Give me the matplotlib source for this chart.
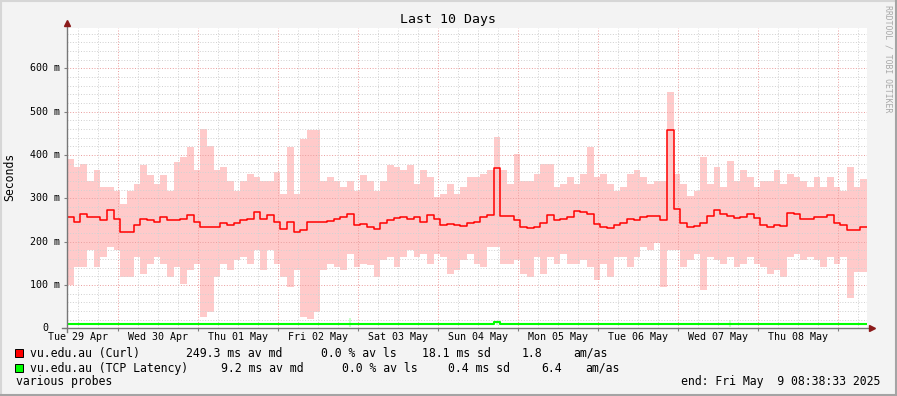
import matplotlib
matplotlib.use("Agg")
import matplotlib.pyplot as plt
import numpy as np
from matplotlib.lines import Line2D
from matplotlib.patches import Rectangle

W, H = 897, 396
MONO = "DejaVu Sans Mono"

# 2-hour blocks starting at 29 Apr 08:38:33 (hours counted from 29 Apr 00:00)
start_hour = 8.6425
block_hours = 2.0

# vu.edu.au (Curl): median / smoke low / smoke high, in ms
curl_median = [
    257, 245, 265, 257, 257, 249, 272, 253, 222, 222, 238, 253, 249, 245, 257,
    249, 249, 253, 261, 245, 234, 234, 234, 242, 238, 242, 250, 253, 268, 253, 261,
    245, 230, 245, 222, 226, 245, 245, 245, 247, 253, 257, 265, 238, 240, 233,
    230, 242, 251, 255, 257, 253, 257, 245, 261, 253, 238, 240, 238, 236, 243,
    246, 257, 262, 370, 259, 259, 249, 234, 231, 234, 242, 261, 251, 253, 257,
    270, 268, 265, 240, 234, 231, 238, 243, 253, 251, 257, 259, 259, 249, 457,
    275, 242, 234, 236, 242, 259, 272, 265, 259, 255, 257, 264, 255, 238, 234,
    238, 236, 266, 265, 253, 253, 257, 257, 261, 242, 238, 228, 226, 234,
]
curl_high = [
    392, 372, 380, 341, 365, 326, 326, 318, 287, 318, 333, 376, 353, 333, 353,
    318, 384, 395, 418, 365, 461, 422, 365, 372, 341, 318, 341, 357, 349, 341, 341,
    360, 310, 418, 310, 437, 457, 457, 341, 349, 341, 326, 341, 318, 353, 341,
    318, 341, 376, 372, 365, 376, 333, 365, 349, 303, 310, 333, 310, 326, 349,
    349, 357, 365, 441, 365, 333, 403, 341, 341, 357, 380, 380, 326, 333, 349,
    333, 357, 418, 349, 357, 333, 318, 326, 357, 365, 349, 333, 341, 341, 545,
    357, 333, 305, 318, 395, 333, 372, 326, 387, 341, 365, 349, 326, 341, 341,
    365, 333, 357, 349, 341, 326, 349, 326, 349, 326, 318, 372, 326, 345,
]
curl_low = [
    99, 142, 142, 180, 142, 165, 188, 180, 119, 119, 165, 126, 149, 165, 149,
    119, 142, 103, 134, 149, 26, 38, 119, 149, 134, 157, 165, 149, 180, 134, 180,
    149, 119, 96, 134, 26, 22, 38, 134, 149, 142, 134, 172, 142, 149, 145,
    119, 157, 165, 142, 165, 180, 165, 172, 149, 172, 165, 126, 134, 157, 172,
    149, 142, 188, 188, 149, 149, 157, 126, 119, 165, 126, 165, 149, 172, 149,
    149, 157, 142, 111, 149, 119, 165, 165, 142, 165, 188, 180, 196, 96, 180,
    180, 142, 157, 172, 88, 165, 157, 149, 165, 142, 149, 165, 149, 142, 126,
    134, 119, 165, 172, 157, 165, 157, 142, 165, 149, 165, 69, 130, 130,
]

# vu.edu.au (TCP Latency), in ms
tcp_median = [
    9.2, 9.2, 9.2, 9.2, 9.2, 9.2, 9.2, 9.2, 9.2, 9.2, 9.2, 9.2, 9.2, 9.2, 9.2,
    9.2, 9.2, 9.2, 9.2, 9.2, 9.2, 9.2, 9.2, 9.2, 9.2, 9.2, 9.2, 9.2, 9.2, 9.2, 9.2,
    9.2, 9.2, 9.2, 9.2, 9.2, 9.2, 9.2, 9.2, 9.2, 9.2, 9.2, 9.2, 9.2, 9.2, 9.2,
    9.2, 9.2, 9.2, 9.2, 9.2, 9.2, 9.2, 9.2, 9.2, 9.2, 9.2, 9.2, 9.2, 9.2, 9.2,
    9.2, 9.2, 10.5, 14.0, 9.2, 9.2, 9.2, 9.2, 9.2, 9.2, 9.2, 9.2, 9.2, 9.2, 9.2,
    9.2, 9.2, 9.2, 9.2, 9.2, 9.2, 9.2, 9.2, 9.2, 9.2, 9.2, 9.2, 9.2, 9.2, 9.2,
    9.2, 9.2, 9.2, 9.2, 9.2, 9.2, 9.2, 9.2, 9.2, 9.2, 9.2, 9.2, 9.2, 9.2, 9.2,
    9.2, 9.2, 9.2, 9.2, 9.2, 9.2, 9.2, 9.2, 9.2, 9.2, 9.2, 9.2, 9.2, 9.2,
]
tcp_high = [
    11, 11, 11, 11, 11, 11, 11, 11, 11, 11, 11, 11, 11, 11, 11,
    11, 11, 11, 11, 11, 11, 11, 11, 11, 11, 11, 11, 11, 11, 11, 11,
    11, 11, 11, 11, 11, 11, 11, 11, 11, 11, 11, 24, 11, 11, 11,
    11, 11, 11, 11, 11, 11, 11, 11, 11, 11, 11, 11, 11, 11, 11,
    11, 11, 12, 15, 11, 11, 11, 11, 11, 11, 11, 11, 11, 11, 11,
    11, 11, 11, 11, 11, 11, 11, 11, 11, 11, 11, 11, 11, 11, 11,
    11, 11, 11, 11, 11, 11, 11, 11, 19, 11, 11, 11, 11, 11, 11,
    11, 11, 11, 11, 11, 11, 11, 11, 11, 11, 11, 11, 11, 11,
]
tcp_low = [
    8, 8, 8, 8, 8, 8, 8, 8, 8, 8, 8, 8, 8, 8, 8,
    8, 8, 8, 8, 8, 8, 8, 8, 8, 8, 8, 8, 8, 8, 8, 8,
    8, 8, 8, 8, 8, 8, 8, 8, 8, 8, 8, 2, 8, 8, 8,
    8, 8, 8, 8, 8, 8, 8, 8, 8, 8, 8, 8, 8, 8, 8,
    8, 8, 8, 8, 8, 8, 8, 8, 8, 8, 8, 8, 8, 8, 8,
    8, 8, 8, 8, 8, 8, 8, 8, 8, 8, 8, 8, 8, 8, 8,
    8, 8, 8, 8, 8, 8, 8, 8, 3, 8, 8, 8, 8, 8, 8,
    8, 8, 8, 8, 8, 8, 8, 8, 8, 8, 8, 8, 8, 8,
]

day_labels = ["Tue 29 Apr", "Wed 30 Apr", "Thu 01 May", "Fri 02 May", "Sat 03 May",
              "Sun 04 May", "Mon 05 May", "Tue 06 May", "Wed 07 May", "Thu 08 May"]
ytick_values = [0, 100, 200, 300, 400, 500, 600]
ytick_labels = ["0", "100 m", "200 m", "300 m", "400 m", "500 m", "600 m"]

legend_rows = [
    ("#ff0000", [(30, "vu.edu.au (Curl)"), (186, "249.3 ms av md"), (321, "0.0 % av ls"),
                 (421.7, "18.1 ms sd"), (521.7, "1.8"), (573.3, "am/as")]),
    ("#00ff00", [(30, "vu.edu.au (TCP Latency)"), (221, "9.2 ms av md"), (341.7, "0.0 % av ls"),
                 (448, "0.4 ms sd"), (541.7, "6.4"), (585, "am/as")]),
]


def fx(px):
    return px / W


def fy(py):
    return 1 - py / H


def extend(values):
    values = np.asarray(values, dtype=float)
    return np.append(values, values[-1])


fig = plt.figure(figsize=(W / 100, H / 100), dpi=100, facecolor="#f3f3f3")
ax = fig.add_axes([fx(67), fy(328.3), 800 / W, 300.6 / H])
ax.set_facecolor("white")
x_end = start_hour + 240
ax.set_xlim(start_hour, x_end)
ax.set_ylim(0, 694)
for s in ax.spines.values():
    s.set_visible(False)

edges = start_hour + block_hours * np.arange(len(curl_median) + 1)
centers = edges[:-1] + block_hours / 2

# smoke
ax.fill_between(edges, extend(curl_low), extend(curl_high), step="post",
                color="#ffcaca", lw=0, zorder=1)
ax.vlines(centers, tcp_low, tcp_high, color="#c8ffc8", lw=1.5, zorder=1)

# grid
dots = (0, (1, 1.7))
for v in range(20, 694, 20):
    major = v % 100 == 0
    ax.axhline(v, color="#eba1a1" if major else "#d2d2d2", lw=0.72, ls=dots, zorder=2)
for h in range(12, int(x_end) + 1, 6):
    major = h % 24 == 0
    ax.axvline(h, color="#eba1a1" if major else "#d2d2d2", lw=0.72, ls=dots, zorder=2)

# medians
ax.step(edges, extend(curl_median), where="post", color="#ff0000", lw=1.1, zorder=3)
ax.step(edges, extend(tcp_median), where="post", color="#00ff00", lw=1.5, zorder=3)

# ticks and labels
ax.set_xticks(range(24, int(x_end), 24))
ax.set_xticklabels([])
ax.set_yticks(ytick_values)
ax.set_yticklabels([])
ax.tick_params(length=2, width=0.8, color="#808080", direction="out")

for i, lab in enumerate(day_labels):
    ax.annotate(lab, xy=(12 + 24 * i, 0), xycoords=ax.get_xaxis_transform(),
                xytext=(0, -9 * 0.72), textcoords="offset points",
                ha="center", va="center", family=MONO, fontsize=7.2)
for v, lab in zip(ytick_values, ytick_labels):
    off = -19 if v == 0 else -7
    ax.annotate(lab, xy=(0, v), xycoords=ax.get_yaxis_transform(),
                xytext=(off * 0.72, 0), textcoords="offset points",
                ha="right", va="center", family=MONO, fontsize=7.2)

# axes with arrows
ax.plot([0, 0], [-4 / 300.6, 1 + 3 / 300.6], transform=ax.transAxes,
        color="#777777", lw=1, clip_on=False, zorder=4)
ax.plot([-5 / 800, 1 + 3 / 800], [0, 0], transform=ax.transAxes,
        color="#777777", lw=1, clip_on=False, zorder=4)
ax.plot([0], [1 + 4.4 / 300.6], marker="^", ms=4.5, color="#8b1a1a",
        transform=ax.transAxes, clip_on=False, zorder=5)
ax.plot([1 + 4.5 / 800], [0], marker=">", ms=4.5, color="#8b1a1a",
        transform=ax.transAxes, clip_on=False, zorder=5)

# texts
fig.text(fx(448), fy(19.3), "Last 10 Days", ha="center", va="center",
         family=MONO, fontsize=9.5)
fig.text(fx(10), fy(177), "Seconds", rotation=90, ha="center", va="center",
         family=MONO, fontsize=8.3)
fig.text(fx(888), fy(59), "RRDTOOL / TOBI OETIKER", rotation=270, ha="center",
         va="center", family=MONO, fontsize=5.9, color="#a8a8a8")

for row, (color, items) in enumerate(legend_rows):
    yc = 353.3 + 15 * row
    fig.add_artist(Rectangle((fx(15), fy(yc + 4)), 8 / W, 8 / H, transform=fig.transFigure,
                             facecolor=color, edgecolor="#000000", lw=0.7))
    for x, txt in items:
        fig.text(fx(x), fy(yc), txt, ha="left", va="center", family=MONO, fontsize=8.3)
fig.text(fx(16), fy(381.7), "various probes", ha="left", va="center",
         family=MONO, fontsize=8.3)
fig.text(fx(880), fy(381.7), "end: Fri May  9 08:38:33 2025", ha="right",
         va="center", family=MONO, fontsize=8.3)

# image frame
fig.add_artist(Line2D([0, 1], [fy(1), fy(1)], transform=fig.transFigure, color="#d6d6d6", lw=1.5))
fig.add_artist(Line2D([fx(1), fx(1)], [0, 1], transform=fig.transFigure, color="#d6d6d6", lw=1.5))
fig.add_artist(Line2D([0, 1], [fy(395), fy(395)], transform=fig.transFigure, color="#a4a4a4", lw=1.5))
fig.add_artist(Line2D([fx(896), fx(896)], [0, 1], transform=fig.transFigure, color="#a4a4a4", lw=1.5))

fig.savefig("out.png", dpi=100, facecolor=fig.get_facecolor())
plt.close(fig)
